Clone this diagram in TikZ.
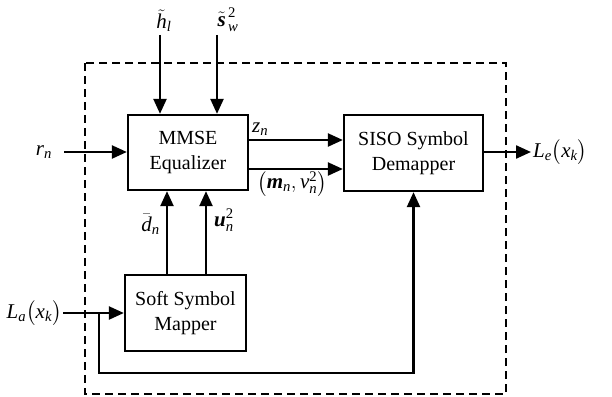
\documentclass[tikz,border=0pt]{standalone}
\usepackage{amsmath}
\usepackage{fontspec}
\setmainfont{Liberation Serif}
\usetikzlibrary{arrows.meta,calc}
% italic and bold-italic letters set in the text font inside math
\newcommand\tv[1]{\text{\textit{#1}}}
\newcommand\tb[1]{\text{\textbf{\textit{#1}}}}
\begin{document}
\begin{tikzpicture}[x=1pt,y=-1pt,
  blockbox/.style={draw,line width=2.3pt,rectangle,inner sep=0pt,align=center,
    font=\fontsize{20}{25}\selectfont},
  sig/.style={line width=2.3pt,-{Triangle[length=15pt,width=13pt]}},
  lbl/.style={inner sep=0pt,font=\fontsize{21}{25}\selectfont},
  frame/.style={line width=2pt,dash pattern=on 8pt off 5pt}]
\useasboundingbox (0,0) rectangle (612,396);

% dashed enclosure of the receiver
\draw[frame] (85,63) rectangle (506,394);

% blocks
\node[blockbox,minimum width=120pt,minimum height=75pt] (mmse) at (188,152.5) {MMSE\\Equalizer};
\node[blockbox,minimum width=139pt,minimum height=76pt] (siso) at (413.5,153) {SISO Symbol\\Demapper};
\node[blockbox,minimum width=121pt,minimum height=76pt] (map) at (185.5,313) {Soft Symbol\\Mapper};

% external ends
\coordinate (rin) at (64,152);
\coordinate (hin) at (160,35);
\coordinate (sin) at (217,35);
\coordinate (lain) at (63,313);
\coordinate (leout) at (531,152);
\coordinate (fb) at (99,313);
\coordinate (fbdown) at (99,373);

% inputs to the equalizer
\draw[sig] (rin) -- (rin -| mmse.west);
\draw[sig] (hin) -- (hin |- mmse.north);
\draw[sig] (sin) -- (sin |- mmse.north);

% equalizer to demapper
\coordinate (z) at (0,140);
\coordinate (mv) at (0,169);
\draw[sig] (z -| mmse.east) -- (z -| siso.west);
\draw[sig] (mv -| mmse.east) -- (mv -| siso.west);

% demapper output
\draw[sig] (leout -| siso.east) -- (leout);

% mapper to equalizer
\coordinate (dx) at (167,0);
\coordinate (ux) at (206,0);
\draw[sig] (dx |- map.north) -- (dx |- mmse.south);
\draw[sig] (ux |- map.north) -- (ux |- mmse.south);

% a priori input and feedback to the demapper
\draw[sig] (lain) -- (lain -| map.west);
\draw[sig] (fb) -- (fbdown) -- (fbdown -| siso.south) -- (siso.south);

% labels
\node[lbl,anchor=center] (lr) at (44,152) {$\tv{r}_{\tv{n}}$};
\node[lbl,anchor=south] (lh) at (164,32) {$\tilde{\tv{h}}_{\tv{l}}$};
\node[lbl,anchor=south] (ls) at (228,32) {$\tilde{\tb{s}}_{\,\tv{w}}^{\,\text{2}}$};
\node[lbl,anchor=south west] (lz) at (252,136) {$\tv{z}_{\tv{n}}$};
\node[lbl,anchor=north] (lmv) at (292,171) {$\bigl(\tb{m}_{\tv{n}},\tv{v}_{\tv{n}}^{\text{2}}\bigr)$};
\node[lbl,anchor=west] (lle) at (533,152) {$\tv{L}_{\tv{e}}\bigl(\tv{x}_{\tv{k}}\bigr)$};
\node[lbl,anchor=east] (lla) at (62,313) {$\tv{L}_{\tv{a}}\bigl(\tv{x}_{\tv{k}}\bigr)$};
\node[lbl,anchor=east] (ld) at (160,224) {$\bar{\tv{d}}_{\tv{n}}$};
\node[lbl,anchor=west] (lu) at (214,220) {$\tb{u}_{\tv{n}}^{\text{2}}$};
\end{tikzpicture}
\end{document}
